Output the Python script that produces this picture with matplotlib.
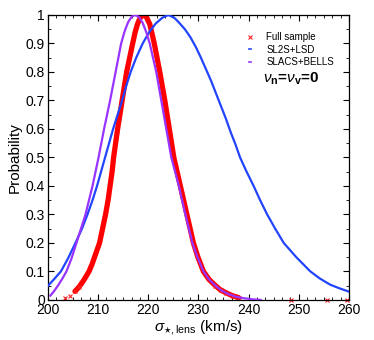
import matplotlib
matplotlib.use("Agg")
import matplotlib.pyplot as plt
from matplotlib.ticker import MultipleLocator, AutoMinorLocator, FuncFormatter

plt.rcParams['font.family'] = ['Liberation Sans', 'DejaVu Sans']
plt.rcParams['mathtext.fontset'] = 'custom'
plt.rcParams['mathtext.rm'] = 'Liberation Sans'
plt.rcParams['mathtext.it'] = 'Liberation Sans:italic'
plt.rcParams['mathtext.bf'] = 'Liberation Sans:bold'

# SL2S+LSD (blue)
blue_sigma = [200.0, 201.2, 202.6, 204.0, 205.5, 206.8, 207.9, 208.9, 209.8, 210.6,
              211.4, 212.2, 213.0, 213.9, 214.8, 215.6, 216.5, 217.6, 218.9, 220.2,
              221.5, 222.8, 224.0, 225.2, 226.2, 227.3, 228.4, 229.5, 230.5, 231.5,
              232.5, 233.5, 234.5, 235.5, 236.4, 237.4, 238.3, 239.6, 241.0, 242.3,
              243.7, 245.3, 247.0, 249.5, 252.3, 254.2, 256.3, 258.2, 260.0]
blue_prob = [0.049, 0.072, 0.1, 0.145, 0.2, 0.25, 0.3, 0.35, 0.4, 0.45,
             0.5, 0.55, 0.6, 0.65, 0.7, 0.75, 0.8, 0.85, 0.9, 0.94,
             0.97, 0.99, 1.0, 0.99, 0.972, 0.95, 0.922, 0.887, 0.85, 0.81,
             0.77, 0.725, 0.68, 0.635, 0.59, 0.545, 0.5, 0.45, 0.4, 0.35,
             0.3, 0.25, 0.2, 0.15, 0.1, 0.075, 0.053, 0.04, 0.029]

# SLACS+BELLS (purple)
purple_sigma = [200.5, 201.2, 202.0, 202.9, 203.7, 204.7, 205.7, 206.6, 207.5, 208.2,
                208.9, 209.5, 210.1, 210.65, 211.2, 211.8, 212.4, 212.95, 213.5, 214.05,
                214.6, 215.3, 216.0, 216.7, 217.4, 218.15, 218.9, 219.6, 220.3, 220.95,
                221.6, 222.1, 222.6, 223.1, 223.6, 224.1, 224.6, 225.35, 226.1, 226.75,
                227.4, 228.1, 228.8, 229.8, 231.0, 232.1, 233.4, 234.6, 236.0, 237.5,
                239.0, 240.7, 242.4]
purple_prob = [0.015, 0.03, 0.05, 0.075, 0.1, 0.145, 0.2, 0.25, 0.3, 0.35,
               0.4, 0.45, 0.5, 0.55, 0.6, 0.65, 0.7, 0.75, 0.8, 0.85,
               0.9, 0.943, 0.975, 0.994, 1.0, 0.993, 0.972, 0.94, 0.9, 0.85,
               0.8, 0.75, 0.7, 0.65, 0.6, 0.55, 0.5, 0.45, 0.4, 0.35,
               0.3, 0.25, 0.2, 0.15, 0.1, 0.072, 0.05, 0.033, 0.02, 0.011,
               0.006, 0.002, 0.0]

# Full sample (red)
red_sigma = [205.4, 206.2, 207.0, 207.6, 208.2, 208.8, 209.3, 209.8, 210.3, 210.9,
             211.5, 212.0, 212.4, 212.8, 213.1, 213.5, 213.9, 214.35, 214.8, 215.25,
             215.7, 216.3, 216.9, 217.4, 217.9, 218.45, 219.0, 219.65, 220.3, 220.75,
             221.2, 221.75, 222.3, 222.8, 223.3, 223.75, 224.2, 224.65, 225.1, 225.75,
             226.4, 227.05, 227.7, 228.35, 229.0, 229.9, 231.0, 232.1, 233.4, 234.4,
             235.5, 236.7, 238.0]
red_prob = [0.03, 0.045, 0.065, 0.082, 0.1, 0.125, 0.15, 0.175, 0.2, 0.25,
            0.3, 0.35, 0.4, 0.45, 0.5, 0.55, 0.6, 0.65, 0.7, 0.75,
            0.8, 0.85, 0.9, 0.94, 0.97, 0.992, 1.0, 0.992, 0.968, 0.935,
            0.9, 0.85, 0.8, 0.75, 0.7, 0.65, 0.6, 0.55, 0.5, 0.45,
            0.4, 0.35, 0.3, 0.25, 0.2, 0.15, 0.1, 0.072, 0.05, 0.035,
            0.025, 0.015, 0.008]
red_tail_sigma = [203.4, 204.5, 205.4, 206.2, 233.4, 234.5, 235.5, 236.8, 238.0, 248.4, 255.7, 259.7]
red_tail_prob = [0.005, 0.015, 0.03, 0.045, 0.05, 0.035, 0.025, 0.015, 0.008, 0.0, 0.0, 0.0]

fig = plt.figure(figsize=(3.74, 3.40), dpi=100)
ax = fig.add_axes([0.128, 0.118, 0.805, 0.838])

ax.plot(blue_sigma, blue_prob, color='#2244ff', lw=1.6, label='SL2S+LSD', zorder=3,
        solid_joinstyle='round')
ax.plot(purple_sigma, purple_prob, color='#9933ff', lw=1.6, label='SLACS+BELLS', zorder=4,
        solid_joinstyle='round')
ax.plot(red_sigma, red_prob, color='#ff0000', lw=3.8, solid_capstyle='round',
        solid_joinstyle='round', zorder=2)
ax.plot(red_tail_sigma, red_tail_prob, ls='none', marker='x', ms=3, mew=0.8,
        color='#ff2020', label='Full sample', zorder=2, clip_on=False)

ax.set_xlim(200, 260)
ax.set_ylim(0, 1)
ax.xaxis.set_major_locator(MultipleLocator(10))
ax.xaxis.set_minor_locator(AutoMinorLocator(6))
ax.yaxis.set_major_locator(MultipleLocator(0.1))
ax.yaxis.set_minor_locator(AutoMinorLocator(2))

def yfmt(v, pos):
    if abs(v) < 1e-9:
        return '0'
    if abs(v - 1) < 1e-9:
        return '1'
    return '%.1f' % v
ax.yaxis.set_major_formatter(FuncFormatter(yfmt))

ax.tick_params(which='both', direction='in', top=True, right=True, labelsize=10, pad=2)
ax.tick_params(which='major', length=4, width=0.8)
ax.tick_params(which='minor', length=2, width=0.6)
for s in ax.spines.values():
    s.set_linewidth(0.9)

ax.set_ylabel('Probability', fontsize=11, labelpad=3)
ax.set_xlabel(r'$\sigma_{\star,\mathrm{lens}}$ (km/s)', fontsize=11, labelpad=1)

handles, labels = ax.get_legend_handles_labels()
order = [labels.index('Full sample'), labels.index('SL2S+LSD'), labels.index('SLACS+BELLS')]
leg = ax.legend([handles[i] for i in order], [labels[i] for i in order],
                loc='upper right', bbox_to_anchor=(0.98, 0.97), frameon=False,
                fontsize=7, handlelength=0.15, handletextpad=1.6, labelspacing=0.25,
                markerscale=0.8)
for line in leg.get_lines():
    line.set_linewidth(1.2)

ax.text(0.715, 0.775, r'$\nu_\mathbf{n}$=$\nu_\mathbf{v}$=0', transform=ax.transAxes,
        fontsize=11, fontweight='bold', ha='left', va='center')

fig.savefig('out.png', dpi=100)
